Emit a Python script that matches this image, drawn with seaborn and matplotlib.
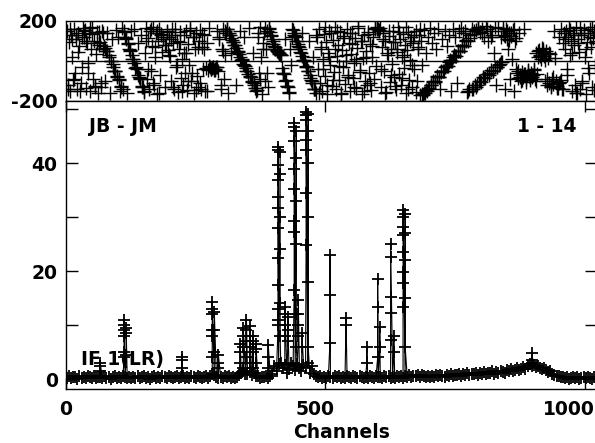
import numpy as np
import pandas as pd
import matplotlib
matplotlib.use("Agg")
import matplotlib.pyplot as plt
import seaborn as sns
from matplotlib.transforms import ScaledTranslation

# baseline amplitude, one value every 4 channels (ch 2, 6, 10, ...)
amp_base = [
    0.2, 0.5, 0.1, 0.4, 0.3, 0.0, 0.6, 0.2, 0.4, 0.1, 0.5, 0.3, 0.2, 0.6, 0.1, 0.4,
    0.3, 0.1, 0.5, 0.2, 0.4, 0.0, 0.3, 0.6, 0.2, 0.4, 0.1, 0.5, 0.3, 0.2, 0.4, 0.1,
    0.4, 0.2, 0.5, 0.1, 0.3, 0.6, 0.2, 0.4, 0.0, 0.3, 0.5, 0.2, 0.4, 0.1, 0.6, 0.3,
    0.2, 0.5, 0.3, 0.1, 0.4, 0.6, 0.2, 0.3, 0.5, 0.1, 0.4, 0.2, 0.6, 0.3, 0.1, 0.5,
    0.3, 0.1, 0.4, 0.6, 0.2, 0.5, 1.0, 0.8, 0.3, 0.1, 0.4, 0.2, 0.5, 0.3, 0.6, 0.2,
    0.4, 0.1, 0.3, 0.8, 1.2, 1.5, 1.0, 0.9, 1.3, 0.8, 1.1, 0.6, 0.5, 0.2, 0.4, 0.3,
    0.5, 0.2, 0.6, 1.0, 2.5, 1.5, 2.8, 3.0, 2.0, 2.6, 1.2, 1.8, 3.0, 2.4, 1.6, 2.8,
    2.0, 1.5, 2.6, 2.2, 3.0, 1.2, 2.4, 1.0, 0.6, 0.3, 0.5, 0.2, 0.4, 0.1, 0.5, 0.3,
    0.2, 0.5, 0.3, 0.6, 0.1, 0.4, 0.2, 0.5, 0.3, 0.1, 0.6, 0.4, 0.2, 0.5, 0.3, 0.1,
    0.4, 0.2, 0.6, 0.3, 0.1, 0.5, 0.3, 0.4, 0.2, 0.6, 0.3, 0.5, 0.2, 0.4, 0.1, 0.5,
    0.3, 0.6, 0.2, 0.5, 0.4, 0.7, 0.3, 0.6, 0.5, 0.8, 0.4, 0.7, 0.5, 0.3, 0.6, 0.4,
    0.6, 0.4, 0.7, 0.5, 0.8, 0.6, 0.4, 0.7, 0.5, 0.9, 0.6, 0.8, 0.7, 1.0, 0.6, 0.9,
    0.8, 1.1, 0.7, 1.0, 0.9, 1.2, 0.8, 1.1, 0.9, 1.3, 1.0, 1.2, 1.1, 1.4, 1.0, 1.3,
    1.2, 1.5, 1.3, 1.1, 1.6, 1.4, 1.8, 1.5, 1.7, 2.0, 1.6, 1.9, 2.2, 1.8, 2.4, 2.8,
    3.0, 2.6, 2.2, 2.5, 2.0, 1.8, 2.1, 1.6, 1.3, 1.5, 1.0, 0.8, 0.6, 0.5, 0.3, 0.4,
    0.1, 0.3, 0.0, 0.2, 0.4, 0.1, 0.3, 0.0, 0.2, 0.4, 0.1, 0.3, 0.2, 0.0, 0.3, 0.1,
]

# spectral line spikes: channel and the amplitude points plotted there
spike_chan = [66, 112, 116, 223, 282, 286, 294, 336, 342, 348, 354, 360, 366, 390,
              409, 413, 422, 428, 440, 444, 448, 455, 463, 467, 509, 540, 580, 601,
              605, 626, 632, 650, 654, 898]
spike_levels = [
    [1.5, 2.5, 3.0],
    [4.0, 5.0, 8.0, 9.0, 10.0, 10.9],
    [4.5, 8.5, 9.5],
    [2.0, 3.5, 4.0],
    [4.0, 8.0, 9.0, 12.0, 13.0, 14.3],
    [5.0, 9.0, 12.5],
    [2.0, 3.0, 4.4],
    [3.0, 5.0, 6.5],
    [2.0, 6.0, 8.0, 9.5],
    [4.0, 7.0, 9.0, 11.0],
    [3.0, 6.0, 8.0, 9.8],
    [2.0, 5.0, 7.0, 8.0],
    [3.0, 5.5, 6.5],
    [2.0, 4.0, 6.3],
    [10.0, 11.0, 13.0, 17.5, 22.4, 27.9, 31.6, 33.8, 36.9, 39.6, 42.4, 43.0],
    [42.0, 38.0, 30.0, 24.0, 14.0, 8.0],
    [8.0, 10.0, 12.0, 13.4],
    [7.0, 9.0, 11.5],
    [16.4, 27.2, 29.3, 35.2, 38.9, 44.1, 46.6, 47.4],
    [46.0, 41.0, 33.0, 25.0, 12.0, 6.0],
    [8.0, 10.0, 12.0, 14.6],
    [6.0, 8.5],
    [24.9, 34.4, 42.4, 44.3, 48.0, 48.9, 49.5],
    [49.0, 46.0, 40.0, 30.0, 18.0, 6.0],
    [6.7, 15.6, 23.0],
    [10.0, 11.3],
    [3.0, 6.0],
    [4.0, 13.4, 18.5],
    [6.0, 9.7],
    [7.2, 12.2, 15.2, 22.6, 25.0],
    [5.0, 8.0],
    [13.4, 17.7, 19.9, 23.6, 26.7, 28.2, 30.0, 31.3],
    [30.5, 27.0, 22.0, 15.0, 6.0],
    [2.5, 3.5, 4.8],
]

# phase (degrees), one value every 2 channels (ch 2, 4, 6, ...)
phase = [
    150, -120, 95, -150, 130, 20, -95, 160, -60, 110, -140, 140, 75, -110, -30, 165,
    120, 155, -135, 90, -10, 140, -150, 60, 170, -90, 100, -125, 35, 145, -160, 80,
    95, -130, 150, 60, 74, -100, 48, 140, 32, -160, 0, 110, -14, -50, -50, 155,
    -76, 120, -90, -150, -126, 165, -140, 145, 120, 114, -160, 84, 58, 54, 150, 12,
    8, 160, -34, -38, 90, -78, -84, 130, -124, -128, -155, 40, 165, -90, 115, -140,
    150, -50, 75, 170, -120, 20, 140, -165, 100, 162, -70, 135, 45, 108, -130, 81,
    150, 54, 120, 27, -100, 160, 90, -140, 130, -30, 100, -155, 60, 145, -85, 10,
    -120, 40, -60, 150, -145, 85, -20, 165, -100, 120, -160, 60, 140, -75, -130, 100,
    155, -140, 70, -40, 130, -150, -35, 90, -45, -25, -30, -40, -35, -28, -45, -38,
    -30, 150, -50, 110, -120, 60, 160, -90, 30, 140, 160, -160, 139, 128, 40, 107,
    96, 80, 78, -120, 48, 46, 36, 150, 4, 6, -16, 120, -26, -48, -50, 165,
    -80, -82, -100, 40, -112, -133, -135, -146, 120, -60, 170, 20, -165, 90, 140, -100,
    60, 150, -130, 160, 143, 127, 110, 85, 75, 62, 55, 45, 40, 35, 30, -37,
    -60, -66, 110, -96, -124, -130, -155, 60, -20, 160, 156, 132, 126, 102, 98, 74,
    72, 46, 42, 140, 4, 0, -25, -28, -52, 100, -70, -96, -100, 20, -138, -140,
    -160, 120, -40, 160, -110, 70, -150, 10, 135, -75, 95, -165, 40, 150, -20, -125,
    105, -55, 170, -140, 25, 80, -95, 145, -160, 55, -30, 125, -115, 0, 160, -70,
    90, -150, 35, 140, -85, -10, 115, -135, 65, 175, -45, 100, -165, 15, 130, -100,
    50, -120, 145, -60, 85, -145, 20, 120, -90, 165, -25, 158, 162, 155, 165, -130,
    70, 140, -50, 100, -155, 30, 125, -105, 60, -15, 150, -80, 95, -140, 45, 170,
    -65, 110, -120, 20, 135, -35, 80, -160, 55, 145, -95, 5, 120, -130, 90, -40,
    150, -100, 60, 130, -170, 100, -20, -172, 155, -160, 40, -150, 120, -135, 165, -120,
    90, -100, 140, -102, 60, -75, 160, -78, -140, -50, 110, -52, 150, -25, 75, -24,
    130, 3, -150, -2, 160, 28, 120, 26, -110, 52, 150, 50, 165, 78, 140, 76,
    150, 104, -155, 102, -140, 130, 160, -140, 135, -118, 155, -122, 170, -100, 145, -104,
    160, -82, 120, -86, 175, -64, 100, -68, 150, -45, 130, -50, 40, -28, -120, -32,
    165, -16, 120, -7, 150, 130, -140, 160, 110, 60, 140, -90, 125, 10, 155, -150,
    100, -40, -60, -85, 140, -70, -100, -55, -80, 160, -65, -90, -50, -75, -95, -60,
    -80, -70, -45, -90, 40, -65, 20, 55, 30, 10, 65, 45, 25, -100, 50, -120,
    15, -110, 35, -130, -90, -115, 150, -100, -125, -135, 120, -105, 160, -140, 90, 140,
    60, 150, -40, 120, 165, 30, 100, -150, 140, 80, -120, 170, -160, 110, 45, -140,
    130, -100, 155, 20, -165, 95, 140, -60, 160, 70, -130, 115, 150, -20, 90, 130,
]

# second set of phase points, one every 4 channels (ch 3, 7, 11, ...)
phase_fill = [
    -140, 160, 110, -90, 130, 45, -150, 120, 150, 100, -60, 165, 135, -130, 90, 145,
    -110, 140, 66, 50, 18, 2, -32, -48, -80, -96, -130, 150, 112, 92, 50, 30,
    -10, -30, -70, -92, -130, -150, 100, -40, 160, -110, 70, 150, -160, 130, 118, 80,
    145, 32, 110, -130, 160, -20, 95, -150, 130, 40, -100, 155, -60, 120, -145, 70,
    -110, 135, 60, -150, 165, -40, -32, -45, -28, 120, -140, 50, 150, 158, 130, 115,
    94, 64, 52, 22, 8, -20, -34, -64, -76, -106, -118, -148, 140, -90, 60, 165,
    -60, 165, 130, 100, 68, 52, 36, 28, -58, -98, -125, -158, 120, 142, 118, 85,
    62, 26, 6, -30, -50, -86, -108, -142, 130, -160, 60, -40, 170, -120, 20, 140,
    -95, 60, 150, -25, -165, 115, 30, -80, 140, 85, -130, 10, 165, -55, 100, -150,
    20, 135, -110, 75, 160, 168, 152, -40, 110, -160, 40, 150, -70, 95, -125, 60,
    145, -85, 30, 170, -140, 100, -20, 130, -155, 70, 160, -166, -160, -145, -140, -120,
    -105, -104, -80, -78, -55, -52, -30, -26, -4, -2, 22, 26, 48, 50, 74, 76,
    100, -150, 115, -138, 150, -128, 165, -100, 140, -84, 160, -62, 120, -48, 170, -30,
    -18, -4, 165, 125, 150, 105, 140, 160, 115, -50, -80, -95, -65, -105, -45, -85,
    -70, -40, -100, 50, 25, 60, 5, -90, 40, -125, -80, 15, -135, -110, -95, -140,
    110, -70, 155, 40, 130, -160, 90, 165, -110, 140, 60, -35, 120, 170, -145, 100,
]

x_ticks = [0, 500, 1000]
phase_ticks = [-200, 200]
amp_major = [0, 20, 40]
amp_minor = [10, 30, 50]

# build the amplitude trace in plotting order
base_chan = 2 + 4 * np.arange(len(amp_base))
chans, amps = [], []
for b, a in zip(base_chan, amp_base):
    chans.append(b)
    amps.append(a)
    for c, lv in zip(spike_chan, spike_levels):
        if b <= c < b + 4:
            chans += [c] * len(lv)
            amps += lv
df_amp = pd.DataFrame({"chan": chans, "amp": amps})

df_ph = pd.concat([
    pd.DataFrame({"chan": 2 + 2 * np.arange(len(phase)), "phase": phase}),
    pd.DataFrame({"chan": 3 + 4 * np.arange(len(phase_fill)), "phase": phase_fill}),
], ignore_index=True)

sns.set_style("white")
plt.rcParams["font.family"] = ["DejaVu Sans"]
plt.rcParams["font.weight"] = "bold"
plt.rcParams["axes.linewidth"] = 1.0
plt.rcParams["axes.edgecolor"] = "black"
plt.rcParams["text.color"] = "black"
plt.rcParams["xtick.color"] = "black"
plt.rcParams["ytick.color"] = "black"
plt.rcParams["axes.labelcolor"] = "black"

FS = 13.5
fig = plt.figure(figsize=(5.95, 4.43), dpi=100)
W, H = 595, 443
ax_ph = fig.add_axes([66 / W, 1 - 101 / H, 531 / W, 80 / H])
ax_amp = fig.add_axes([66 / W, 1 - 389 / H, 531 / W, 288 / H])

# phase panel
sns.scatterplot(data=df_ph, x="chan", y="phase", marker="+", s=88, color="black",
                linewidth=1.0, ax=ax_ph, legend=False)
ax_ph.axhline(0, color="black", lw=1.0)
ax_ph.set_xlim(0, 1024)
ax_ph.set_ylim(-200, 200)
ax_ph.set_xticks([])
ax_ph.set_yticks(phase_ticks)
ax_ph.set_yticklabels([str(t) for t in phase_ticks])
ax_ph.tick_params(axis="y", length=0, pad=6, labelsize=FS, labelcolor="black")
ax_ph.set_xlabel("")
ax_ph.set_ylabel("")

# amplitude panel
sns.lineplot(data=df_amp, x="chan", y="amp", sort=False, estimator=None, color="black",
             linewidth=0.8, marker="+", markersize=9.2, markeredgewidth=1.3,
             markeredgecolor="black", ax=ax_amp)
ax_amp.set_xlim(0, 1024)
ax_amp.set_ylim(-1.85, 51.5)
ax_amp.set_xticks(x_ticks)
ax_amp.set_xticklabels([str(t) for t in x_ticks])
ax_amp.set_yticks(amp_major)
ax_amp.set_yticklabels([str(t) for t in amp_major])
ax_amp.set_yticks(amp_minor, minor=True)
ax_amp.tick_params(axis="x", which="both", direction="in", length=8, width=1,
                   top=True, bottom=True, pad=8, labelsize=FS, labelcolor="black")
ax_amp.tick_params(axis="y", which="both", direction="in", length=8.5, width=1,
                   left=True, right=True, pad=6, labelsize=FS, labelcolor="black")
ax_amp.set_xlabel("")
ax_amp.set_ylabel("")

# AIPS-style shifted x labels
for lab, dx in zip(ax_amp.get_xticklabels(), [0, -10, -16]):
    lab.set_transform(lab.get_transform() + ScaledTranslation(dx / 100, 0, fig.dpi_scale_trans))

for a in (ax_ph, ax_amp):
    for s in a.spines.values():
        s.set_visible(True)
        s.set_color("black")

ax_amp.text(0.0435, 0.913, "JB - JM", transform=ax_amp.transAxes, fontsize=FS,
            fontweight="bold", ha="left", va="center", color="black")
ax_amp.text(0.962, 0.913, "1 - 14", transform=ax_amp.transAxes, fontsize=FS,
            fontweight="bold", ha="right", va="center", color="black")
ax_amp.text(0.028, 0.104, "IF 1(LR)", transform=ax_amp.transAxes, fontsize=FS,
            fontweight="bold", ha="left", va="center", zorder=1, color="black")
fig.text(342 / W, 1 - 432 / H, "Channels", fontsize=FS, fontweight="bold",
         ha="center", va="center", color="black")

fig.savefig("out.png", dpi=100)
